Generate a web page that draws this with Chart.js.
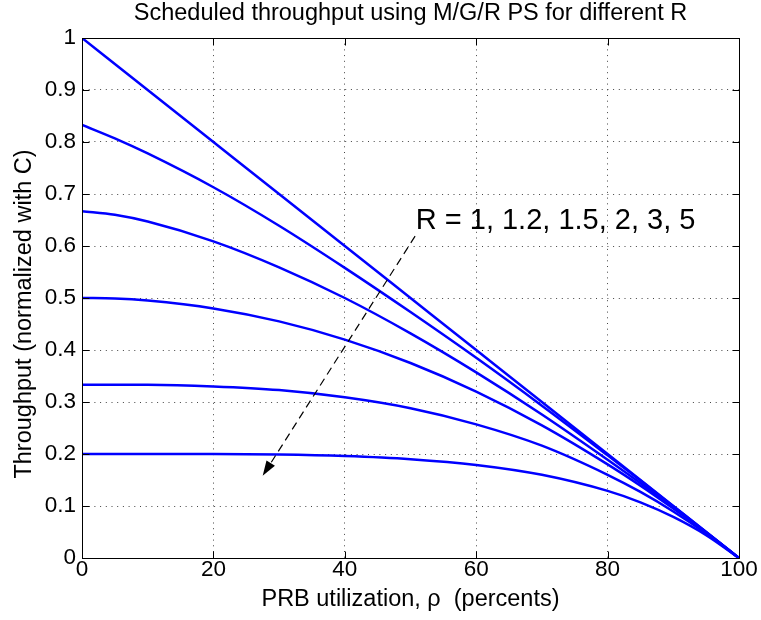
<!DOCTYPE html>
<html>
<head>
<meta charset="utf-8">
<title>Scheduled throughput</title>
<script src="https://cdn.jsdelivr.net/npm/chart.js@4.4.0/dist/chart.umd.min.js"></script>
<style>
    html, body {margin: 0; padding: 0; background: #fff;}
    #box {width: 761px; height: 620px;}
</style>
</head>
<body>
<div id="box"><canvas id="grafico" width="761" height="620"></canvas></div>
<script>
// PRB utilization (percent) where the curves were read
let rho = [0, 5, 10, 20, 30, 40, 50, 60, 70, 80, 85, 90, 95, 100];

// throughput normalized with C, one list per R
let thrR1  = [1, 0.95, 0.9, 0.8, 0.7, 0.6, 0.5, 0.4, 0.3, 0.2, 0.15, 0.1, 0.05, 0];
let thrR12 = [0.833, 0.807, 0.778, 0.713, 0.639, 0.558, 0.473, 0.385, 0.293, 0.1975, 0.149, 0.0995, 0.05, 0];
let thrR15 = [0.667, 0.660, 0.647, 0.609, 0.559, 0.500, 0.432, 0.357, 0.276, 0.189, 0.144, 0.097, 0.049, 0];
let thrR2  = [0.5, 0.499, 0.495, 0.48, 0.455, 0.42, 0.375, 0.32, 0.255, 0.18, 0.139, 0.095, 0.049, 0];
let thrR3  = [0.333, 0.333, 0.333, 0.330, 0.323, 0.309, 0.288, 0.257, 0.216, 0.160, 0.127, 0.0895, 0.047, 0];
let thrR5  = [0.2, 0.2, 0.2, 0.2, 0.199, 0.196, 0.190, 0.179, 0.160, 0.129, 0.107, 0.079, 0.044, 0];

let seriesNames = [`R = 1`, `R = 1.2`, `R = 1.5`, `R = 2`, `R = 3`, `R = 5`];

let xTicks = [0, 20, 40, 60, 80, 100];
let yTicks = [0, 0.1, 0.2, 0.3, 0.4, 0.5, 0.6, 0.7, 0.8, 0.9, 1];

let chartTitle = `Scheduled throughput using M/G/R PS for different R`;
let xTitle = `PRB utilization, ρ  (percents)`;
let yTitle = `Throughput (normalized with C)`;

// annotation: text position and arrow (data coordinates)
let noteText = `R = 1, 1.2, 1.5, 2, 3, 5`;
let noteAt = [50.8, 0.633];
let arrowFrom = [50.7, 0.619];
let arrowTo = [27.5, 0.158];

let fonte = `'Liberation Sans', Arial, Helvetica, sans-serif`;
Chart.defaults.font.family = fonte;
Chart.defaults.color = `#000`;

function pontos(ys) {
    return rho.map((x, i) => ({x: x, y: ys[i]}));
}

let todas = [thrR1, thrR12, thrR15, thrR2, thrR3, thrR5];

let data = {
    datasets: todas.map((ys, i) => ({
        label: seriesNames[i],
        data: pontos(ys),
        borderColor: `#0000ff`,
        borderWidth: 2.5,
        pointRadius: 0,
        fill: false,
        cubicInterpolationMode: `monotone`
    }))
};

function px(v) {
    return Math.round(v) + 0.5;
}

let matlabLook = {
    id: `matlabLook`,
    afterDraw(chart) {
        let ctx = chart.ctx;
        let a = chart.chartArea;
        let sx = chart.scales.x;
        let sy = chart.scales.y;
        let l = px(a.left), r = px(a.right), t = px(a.top), b = px(a.bottom);

        ctx.save();
        ctx.strokeStyle = `#000`;
        ctx.lineWidth = 1;
        ctx.setLineDash([]);

        // inward ticks on all four sides
        ctx.beginPath();
        xTicks.forEach(v => {
            let p = px(sx.getPixelForValue(v));
            ctx.moveTo(p, b); ctx.lineTo(p, b - 7);
            ctx.moveTo(p, t); ctx.lineTo(p, t + 7);
        });
        yTicks.forEach(v => {
            let p = px(sy.getPixelForValue(v));
            ctx.moveTo(l, p); ctx.lineTo(l + 7, p);
            ctx.moveTo(r, p); ctx.lineTo(r - 7, p);
        });
        ctx.stroke();

        // box
        ctx.strokeRect(l, t, r - l, b - t);

        // title
        ctx.fillStyle = `#000`;
        ctx.font = `23.5px ${fonte}`;
        ctx.textAlign = `center`;
        ctx.textBaseline = `alphabetic`;
        ctx.fillText(chartTitle, (a.left + a.right) / 2, 20);

        // y axis label
        ctx.save();
        ctx.translate(25, 314);
        ctx.rotate(-Math.PI / 2);
        ctx.textBaseline = `middle`;
        ctx.fillText(yTitle, 0, 0);
        ctx.restore();

        // annotation text
        ctx.font = `29px ${fonte}`;
        ctx.textAlign = `left`;
        ctx.fillText(noteText, sx.getPixelForValue(noteAt[0]), sy.getPixelForValue(noteAt[1]));

        // dashed arrow
        let x1 = sx.getPixelForValue(arrowFrom[0]), y1 = sy.getPixelForValue(arrowFrom[1]);
        let x2 = sx.getPixelForValue(arrowTo[0]), y2 = sy.getPixelForValue(arrowTo[1]);
        let ang = Math.atan2(y2 - y1, x2 - x1);
        let head = 15, half = 5;
        let bx = x2 - head * Math.cos(ang), by = y2 - head * Math.sin(ang);
        ctx.lineWidth = 1.2;
        ctx.setLineDash([8, 5]);
        ctx.beginPath();
        ctx.moveTo(x1, y1);
        ctx.lineTo(bx, by);
        ctx.stroke();
        ctx.setLineDash([]);
        ctx.beginPath();
        ctx.moveTo(x2, y2);
        ctx.lineTo(bx + half * Math.sin(ang), by - half * Math.cos(ang));
        ctx.lineTo(bx - half * Math.sin(ang), by + half * Math.cos(ang));
        ctx.closePath();
        ctx.fill();

        ctx.restore();
    }
};

let config = {
    type: `line`,
    data: data,
    options: {
        responsive: false,
        animation: false,
        devicePixelRatio: 1,
        layout: {padding: {top: 38, right: 22, left: 0, bottom: 0}},
        plugins: {
            legend: {display: false},
            title: {display: false},
            tooltip: {enabled: false}
        },
        scales: {
            x: {
                type: `linear`,
                min: 0,
                max: 100,
                afterBuildTicks: s => { s.ticks = xTicks.map(v => ({value: v})); },
                afterFit: s => { s.height = 62; },
                ticks: {
                    font: {size: 22.5, lineHeight: 1},
                    padding: 1,
                    maxRotation: 0,
                    callback: v => String(v)
                },
                grid: {color: `#444`, lineWidth: 1, drawTicks: false},
                border: {display: true, color: `#000`, dash: [1, 4.7]},
                title: {
                    display: true,
                    text: xTitle,
                    font: {size: 23.5, lineHeight: 1.2},
                    padding: {top: 0, bottom: 6}
                }
            },
            y: {
                type: `linear`,
                min: 0,
                max: 1,
                afterBuildTicks: s => { s.ticks = yTicks.map(v => ({value: v})); },
                afterFit: s => { s.width = 82; },
                ticks: {
                    font: {size: 22.5, lineHeight: 1},
                    padding: 6,
                    callback: v => String(Math.round(v * 10) / 10)
                },
                grid: {color: `#444`, lineWidth: 1, drawTicks: false},
                border: {display: true, color: `#000`, dash: [1, 4.7]}
            }
        }
    },
    plugins: [matlabLook]
};

let ctx = new Chart(document.getElementById('grafico'), config);
</script>
</body>
</html>
